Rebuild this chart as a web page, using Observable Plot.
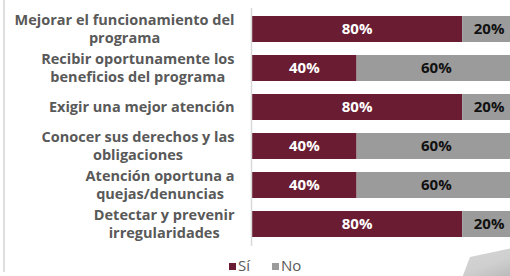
<!DOCTYPE html>
<html>
<head>
<meta charset="utf-8">
<script src="https://cdn.jsdelivr.net/npm/d3@7"></script>
<script src="https://cdn.jsdelivr.net/npm/@observablehq/plot@0.6"></script>
<style>
  html, body { margin: 0; padding: 0; background: #fff; overflow: hidden; width: 510px; height: 276px; }
  #wrap { position: relative; width: 510px; height: 276px; overflow: hidden; }
  #border { position: absolute; left: 3px; top: 0; width: 2px; height: 272px; background: #dedede; }
  #chart { position: absolute; left: 0; top: 0; width: 515px; }
  #chart svg { max-width: none !important; }
  #legend { position: absolute; left: 229px; top: 257px; text-align: left; line-height: 17px; white-space: nowrap;
            font-family: "Open Sans", sans-serif; font-size: 15px; color: #595959; }
  #legend span.item { display: inline-block; margin-right: 22px; }
  #legend i { display: inline-block; width: 7px; height: 7px; margin-right: 2px; vertical-align: 1px; }
  #deco { position: absolute; left: 462px; top: 248px; width: 50px; height: 30px;
          background: linear-gradient(160deg, #d6d6d6 0%, #cfcfcf 55%, #b8b8b8 100%);
          clip-path: polygon(16% 30%, 100% 0%, 100% 100%, 0% 100%); }
</style>
</head>
<body>
<div id="wrap">
  <div id="border"></div>
  <div id="chart"></div>
  <div id="deco"></div>
  <div id="legend"></div>
</div>
<script>
const categories = [
  "Mejorar el funcionamiento del\nprograma",
  "Recibir oportunamente los\nbeneficios del programa",
  "Exigir una mejor atención",
  "Conocer sus derechos y las\nobligaciones",
  "Atención oportuna a\nquejas/denuncias",
  "Detectar y prevenir\nirregularidades"
];
const series = ["Sí", "No"];
const si = [80, 40, 80, 40, 40, 80];
const no = [20, 60, 20, 60, 60, 20];
const colors = ["#691c32", "#9b9b9b"];
const valueTextColors = ["#ffffff", "#111111"];

const long = [];
categories.forEach((c, i) => {
  long.push({cat: c, serie: "Sí", v: si[i]});
  long.push({cat: c, serie: "No", v: no[i]});
});

const labelSize = 14.5;
const ctx = document.createElement("canvas").getContext("2d");
ctx.font = `bold ${labelSize}px 'Open Sans'`;
function blockWidth(s) {
  return Math.max(...s.split("\n").map(l => ctx.measureText(l).width));
}

const gap = 17;
const labelMarks = categories.map(c => Plot.text([c], {
  y: d => d,
  text: d => d,
  frameAnchor: "left",
  textAnchor: "middle",
  lineAnchor: "middle",
  lineHeight: 1.25,
  dx: -(gap + blockWidth(c) / 2),
  dy: -1,
  fontFamily: "Open Sans",
  fontWeight: 700,
  fontSize: labelSize,
  fill: "#595959"
}));

const chart = Plot.plot({
  width: 515,
  height: 250,
  marginLeft: 251,
  marginRight: 0,
  marginTop: 8,
  marginBottom: 4,
  x: {domain: [0, 100], axis: null},
  y: {domain: categories, axis: null, paddingInner: 0.33, paddingOuter: 0.15},
  color: {domain: series, range: colors},
  style: {fontFamily: "Open Sans", overflow: "visible", maxWidth: "none"},
  marks: [
    Plot.barX(long, {x: "v", y: "cat", fill: "serie"}),
    Plot.ruleX([0], {stroke: "#d9d9d9", strokeWidth: 1.5}),
    Plot.text(long, Plot.stackX({
      x: "v", y: "cat", z: "serie",
      text: d => d.v + "%",
      fill: d => valueTextColors[series.indexOf(d.serie)],
      fontWeight: 700,
      fontSize: 15
    })),
    ...labelMarks
  ]
});
document.getElementById("chart").appendChild(chart);

const legend = document.getElementById("legend");
series.forEach((s, i) => {
  const item = document.createElement("span");
  item.className = "item";
  const sw = document.createElement("i");
  sw.style.background = colors[i];
  item.appendChild(sw);
  item.appendChild(document.createTextNode(s));
  legend.appendChild(item);
});
</script>
</body>
</html>
